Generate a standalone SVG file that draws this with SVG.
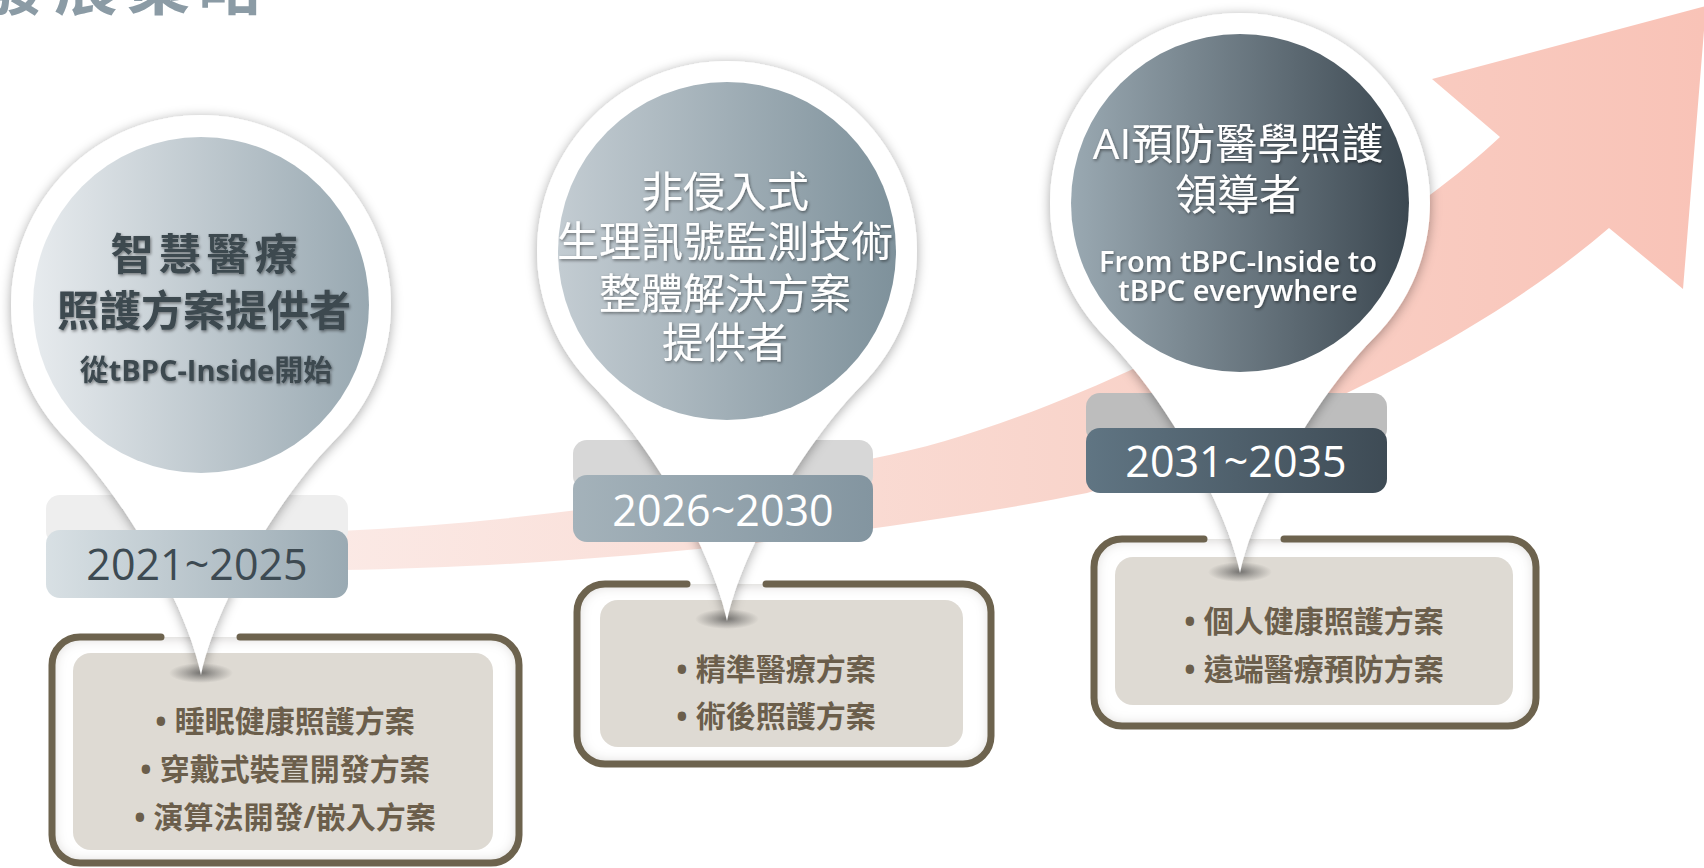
<svg xmlns="http://www.w3.org/2000/svg" xmlns:xlink="http://www.w3.org/1999/xlink" width="1704" height="868" viewBox="0 0 1704 868">
<style>
text{font-family:'Open Sans','Noto Sans CJK TC',sans-serif;text-anchor:middle}
.title{font-family:'Noto Sans CJK TC',sans-serif;font-size:64px;font-weight:700;fill:#8b9ba5;text-anchor:start}
.pinDark{font-size:43px;font-weight:700;fill:#3c4950}
.pinWhite{font-size:42px;font-weight:400;fill:#ffffff}
.sub{font-size:29px;font-weight:700;fill:#3c4950}
.en{font-size:29px;font-weight:600;fill:#ffffff}
.year{font-size:43px;font-weight:400}
.item{font-size:30px;font-weight:700;fill:#6b5e4b}
.border{fill:none;stroke:#6d634e;stroke-width:7;stroke-linecap:round}
.fillIn{fill:#dedad3}
.pin{fill:#ffffff}
</style>
<defs>
<linearGradient id="bandGrad" gradientUnits="userSpaceOnUse" x1="340" y1="0" x2="1704" y2="0">
<stop offset="0" stop-color="#fbe9e5"/>
<stop offset="0.5" stop-color="#f9d6cd"/>
<stop offset="1" stop-color="#f9c3b7"/>
</linearGradient>
<linearGradient id="c1" x1="0" y1="0" x2="1" y2="0"><stop offset="0" stop-color="#e7ebee"/><stop offset="1" stop-color="#98a8b1"/></linearGradient>
<linearGradient id="c2" x1="0" y1="0" x2="1" y2="0"><stop offset="0" stop-color="#c3ccd2"/><stop offset="1" stop-color="#7e919b"/></linearGradient>
<linearGradient id="c3" x1="0" y1="0" x2="1" y2="0"><stop offset="0" stop-color="#9aa9b2"/><stop offset="1" stop-color="#3c4851"/></linearGradient>
<linearGradient id="y1" x1="0" y1="0" x2="1" y2="0"><stop offset="0" stop-color="#d8e0e4"/><stop offset="1" stop-color="#9aaab3"/></linearGradient>
<linearGradient id="y2" x1="0" y1="0" x2="1" y2="0"><stop offset="0" stop-color="#a4b2ba"/><stop offset="1" stop-color="#8395a0"/></linearGradient>
<linearGradient id="y3" x1="0" y1="0" x2="1" y2="0"><stop offset="0" stop-color="#607583"/><stop offset="1" stop-color="#3e4b55"/></linearGradient>
<radialGradient id="tipShadow"><stop offset="0" stop-color="#3a3a3a" stop-opacity="0.6"/><stop offset="1" stop-color="#3a3a3a" stop-opacity="0"/></radialGradient>
<filter id="pinShadow" x="-20%" y="-20%" width="140%" height="140%">
<feDropShadow dx="0" dy="2" stdDeviation="6" flood-color="#000" flood-opacity="0.35"/>
</filter>
<filter id="txtShadow" x="-10%" y="-20%" width="120%" height="140%">
<feDropShadow dx="1" dy="1.5" stdDeviation="1.5" flood-color="#000" flood-opacity="0.45"/>
</filter>
<filter id="inner" x="-5%" y="-5%" width="110%" height="110%">
<feGaussianBlur in="SourceAlpha" stdDeviation="7" result="b"/>
<feComposite in="SourceAlpha" in2="b" operator="arithmetic" k2="1" k3="-1" result="edge"/>
<feFlood flood-color="#7d7466" flood-opacity="0.55"/>
<feComposite in2="edge" operator="in" result="sh"/>
<feMerge><feMergeNode in="SourceGraphic"/><feMergeNode in="sh"/></feMerge>
</filter>
<path id="pinShape" d="M-134.4 134.4 C-77.8 191 -14 300 0 370 C14 300 77.8 191 134.4 134.4 A190 190 0 1 0 -134.4 134.4 Z"/>
</defs>

<g id="title">
<text class="title" x="-18" y="9" letter-spacing="8">發展策略</text>
</g>

<g id="connectors">
<path id="growth-arrow" fill="url(#bandGrad)" d="M340 531 C520 522 695 498 875 458 C1075 420 1370 259 1500 137 L1432 79 L1706 6 L1683 289 L1609 228 C1442 371 1207 457 1087 493 C887 533 590 567 340 570 Z"/>
</g>

<g id="stage-2021">
<g id="box1">
<rect x="52" y="637" width="467" height="226" rx="28" fill="#fff" filter="url(#inner)"/>
<rect class="fillIn" x="73" y="653" width="420" height="197" rx="18"/>
<path class="border" d="M240 637 H491 A28 28 0 0 1 519 665 V835 A28 28 0 0 1 491 863 H80 A28 28 0 0 1 52 835 V665 A28 28 0 0 1 80 637 H161"/>
<text class="item" x="285" y="732"><tspan>•</tspan><tspan dx="8">睡眠健康照護方案</tspan></text>
<text class="item" x="285" y="780"><tspan>•</tspan><tspan dx="8">穿戴式裝置開發方案</tspan></text>
<text class="item" x="285" y="828"><tspan>•</tspan><tspan dx="8">演算法開發/嵌入方案</tspan></text>
</g>
<rect id="year1-back" x="46" y="495" width="302" height="50" rx="14" fill="#eeeeee"/>
<g id="pin1">
<ellipse cx="201" cy="673" rx="32" ry="10" fill="url(#tipShadow)"/>
<use href="#pinShape" transform="translate(201 305)" class="pin" filter="url(#pinShadow)"/>
<circle cx="201" cy="305" r="168" fill="url(#c1)"/>
<g filter="url(#txtShadow)">
<text class="pinDark" x="206.5" y="270" letter-spacing="5">智慧醫療</text>
<text class="pinDark" x="204" y="326" style="font-size:42px">照護方案提供者</text>
<text class="sub" x="206" y="381">從tBPC-Inside開始</text>
</g>
</g>
<g id="year1">
<rect x="46" y="530" width="302" height="68" rx="14" fill="url(#y1)"/>
<text class="year" x="197" y="580" fill="#3d4a52">2021~2025</text>
</g>
</g>

<g id="stage-2026">
<g id="box2">
<rect x="577" y="584" width="414" height="180" rx="28" fill="#fff" filter="url(#inner)"/>
<rect class="fillIn" x="600" y="600" width="363" height="147" rx="18"/>
<path class="border" d="M766 584 H963 A28 28 0 0 1 991 612 V736 A28 28 0 0 1 963 764 H605 A28 28 0 0 1 577 736 V612 A28 28 0 0 1 605 584 H687"/>
<text class="item" x="776" y="680"><tspan>•</tspan><tspan dx="8">精準醫療方案</tspan></text>
<text class="item" x="776" y="727"><tspan>•</tspan><tspan dx="8">術後照護方案</tspan></text>
</g>
<rect id="year2-back" x="573" y="440" width="300" height="50" rx="14" fill="#d7d7d7"/>
<g id="pin2">
<ellipse cx="727" cy="619" rx="32" ry="10" fill="url(#tipShadow)"/>
<use href="#pinShape" transform="translate(727 251)" class="pin" filter="url(#pinShadow)"/>
<circle cx="727" cy="251" r="169" fill="url(#c2)"/>
<g filter="url(#txtShadow)">
<text class="pinWhite" x="725" y="207">非侵入式</text>
<text class="pinWhite" x="725" y="257">生理訊號監測技術</text>
<text class="pinWhite" x="725" y="309">整體解決方案</text>
<text class="pinWhite" x="725" y="358">提供者</text>
</g>
</g>
<g id="year2">
<rect x="573" y="475" width="300" height="67" rx="14" fill="url(#y2)"/>
<text class="year" x="723" y="526" fill="#ffffff">2026~2030</text>
</g>
</g>

<g id="stage-2031">
<g id="box3">
<rect x="1094" y="539" width="442" height="187" rx="28" fill="#fff" filter="url(#inner)"/>
<rect class="fillIn" x="1115" y="557" width="398" height="148" rx="18"/>
<path class="border" d="M1284 539 H1508 A28 28 0 0 1 1536 567 V698 A28 28 0 0 1 1508 726 H1122 A28 28 0 0 1 1094 698 V567 A28 28 0 0 1 1122 539 H1204"/>
<text class="item" x="1314" y="632"><tspan>•</tspan><tspan dx="8">個人健康照護方案</tspan></text>
<text class="item" x="1314" y="680"><tspan>•</tspan><tspan dx="8">遠端醫療預防方案</tspan></text>
</g>
<rect id="year3-back" x="1086" y="393" width="301" height="50" rx="14" fill="#bdbdbd"/>
<g id="pin3">
<ellipse cx="1240" cy="572" rx="32" ry="10" fill="url(#tipShadow)"/>
<use href="#pinShape" transform="translate(1240 203)" class="pin" filter="url(#pinShadow)"/>
<circle cx="1240" cy="203" r="169" fill="url(#c3)"/>
<g filter="url(#txtShadow)">
<text class="pinWhite" x="1238" y="159">AI預防醫學照護</text>
<text class="pinWhite" x="1238" y="210">領導者</text>
<text class="en" x="1238" y="272">From tBPC-Inside to</text>
<text class="en" x="1238" y="301">tBPC everywhere</text>
</g>
</g>
<g id="year3">
<rect x="1086" y="428" width="301" height="65" rx="14" fill="url(#y3)"/>
<text class="year" x="1236" y="477" fill="#ffffff">2031~2035</text>
</g>
</g>
</svg>
